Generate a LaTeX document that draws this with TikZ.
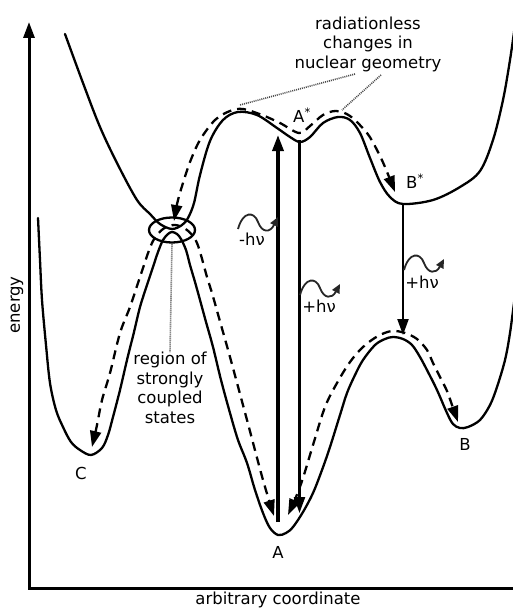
\documentclass[tikz,border=0pt]{standalone}
\usepackage{fontspec}
\setmainfont{DejaVu Sans}
\usetikzlibrary{arrows.meta,shapes.geometric}
\begin{document}
\begin{tikzpicture}[x=1pt,y=-1pt,
  font=\fontsize{16.5}{19.5}\selectfont,
  curve/.style={line width=2.3pt,line join=round,line cap=round},
  dashpath/.style={line width=2.3pt,dash pattern=on 9pt off 6pt},
  bigtip/.style={-{Triangle[length=16pt,width=11pt]}},
  bothtips/.style={{Triangle[length=16pt,width=11pt]}-{Triangle[length=16pt,width=11pt]}},
  wave/.style={line width=1.8pt,black!85,-{Triangle[length=9pt,width=8pt]}},
  leader/.style={line width=1.6pt,black!70,dash pattern=on 1pt off 1pt},
  lbl/.style={inner sep=0pt}]
\useasboundingbox (0,0) rectangle (513,610);

% axes
\coordinate (O) at (29,588);
\coordinate (ytop) at (29,22);
\coordinate (xend) at (514,588);
\draw[line width=3pt,{Triangle[length=16pt,width=11pt]}-] (ytop) -- (O) -- (xend);
\node[lbl,rotate=90] (ylab) at (17,305) {energy};
\node[lbl] (xlab) at (278,600) {arbitrary coordinate};

% excited-state surface
\draw[curve] plot[smooth,tension=0.55] coordinates {
 (65,34) (83,83) (100,127) (118,165) (137,200) (150,214) (160,224) (172,229)
 (182,225) (188,218) (194,203) (200,175) (210,141) (223,120) (238,112) (257,115)
 (277,128) (290,137) (300,142) (310,137) (323,123) (338,117) (350,120) (360,133)
 (370,158) (380,182) (390,197) (403,204) (433,200) (460,187) (480,171) (493,140)
 (503,100) (510,60) (515,25)};

% ground-state surface
\draw[curve] plot[smooth,tension=0.55] coordinates {
 (38,218) (40,260) (42,300) (46,345) (50,383) (56,410) (63,427) (71,442) (80,450)
 (91,455) (102,448) (108,435) (113,417) (120,390) (127,360) (134,332) (140,307)
 (147,285) (153,267) (158,252) (163,240) (168,234) (172,232) (177,234) (181,239)
 (186,250) (190,265) (195,282) (200,300) (206,322) (213,347) (221,380) (230,413)
 (238,440) (247,463) (255,490) (263,513) (270,528) (278,535) (286,533) (293,527)
 (303,512) (313,493) (322,470) (330,447) (340,415) (347,393) (355,375) (363,360)
 (375,345) (385,339) (393,337) (403,339) (412,345) (420,357) (428,372) (437,390)
 (447,413) (453,424) (460,428) (468,427) (480,420) (490,405) (497,387) (505,360)
 (510,333) (515,295)};

% dashed paths
\draw[dashpath,bothtips] plot[smooth,tension=0.55] coordinates {
 (174,221) (178,200) (183,183) (190,162) (200,140) (215,120) (230,111) (243,109)
 (262,115) (280,123) (299,133) (310,126) (323,115) (336,111) (350,116) (367,133)
 (377,150) (385,167) (395,192)};
\draw[dashpath,bothtips] plot[smooth,tension=0.55] coordinates {
 (92,447) (97,425) (102,400) (110,373) (120,333) (130,307) (140,277) (152,243)
 (163,229) (175,225) (187,230) (197,243) (207,277) (212,293) (221,325) (230,357)
 (247,420) (263,480) (274,516)};
\draw[dashpath,bothtips] plot[smooth,tension=0.55] coordinates {
 (288,515) (296,497) (303,478) (313,445) (325,407) (337,383) (350,362) (363,347)
 (378,336) (392,331) (405,333) (417,339) (427,350) (433,363) (440,377) (447,391)
 (452,405) (458,422)};

% conical region
\node[draw,ellipse,line width=2.3pt,minimum width=46pt,minimum height=25pt,inner sep=0pt] (ci) at (172,230) {};
\node[lbl,align=center] (region) at (170,388) {region of\\strongly\\coupled\\states};
\draw[leader] (ci.south) -- (region.north);

% radiationless label
\node[lbl,align=center] (rad) at (368,44) {radiationless\\changes in\\nuclear geometry};
\coordinate (r1s) at (355,74);
\coordinate (r1e) at (240,105);
\coordinate (r2s) at (381,75);
\coordinate (r2e) at (342,110);
\draw[leader] (r1s) -- (r1e);
\draw[leader] (r2s) -- (r2e);

% vertical transitions
\coordinate (absb) at (278,522);
\coordinate (abst) at (278,135);
\draw[line width=3.4pt,bigtip] (absb) -- (abst);
\coordinate (Asb) at (299.5,140);
\coordinate (Ase) at (299.5,513);
\draw[line width=2.2pt,bigtip] (Asb) -- (Ase);
\coordinate (Bsb) at (403,203);
\coordinate (Bse) at (403,335);
\draw[line width=2.2pt,bigtip] (Bsb) -- (Bse);

% photons
\coordinate (w1s) at (238,229);
\coordinate (w1e) at (278,217);
\draw[wave] (w1s) .. controls (243,211) and (254,211) .. (258,222) .. controls (262,233) and (270,233) .. (w1e);
\node[lbl] (h1) at (252,239) {-hν};
\coordinate (w2s) at (300,295);
\coordinate (w2e) at (340,284);
\draw[wave] (w2s) .. controls (305,277) and (316,277) .. (320,288) .. controls (324,299) and (332,299) .. (w2e);
\node[lbl] (h2) at (319,306) {+hν};
\coordinate (w3s) at (404,270);
\coordinate (w3e) at (444,259);
\draw[wave] (w3s) .. controls (409,252) and (420,252) .. (424,263) .. controls (428,274) and (436,274) .. (w3e);
\node[lbl] (h3) at (422,282) {+hν};

% state labels
\node[lbl] (lAs) at (302,115) {A\textsuperscript{*}};
\node[lbl] (lBs) at (415,181) {B\textsuperscript{*}};
\node[lbl] (lC) at (81,473) {C};
\node[lbl] (lA) at (278,552) {A};
\node[lbl] (lB) at (465,444) {B};
\end{tikzpicture}
\end{document}
